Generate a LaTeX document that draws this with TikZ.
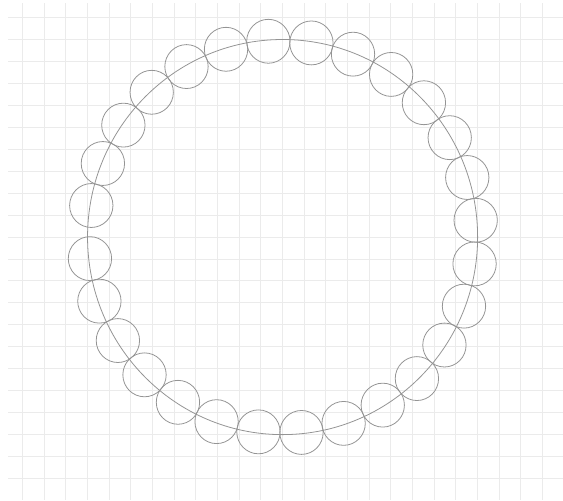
\documentclass[tikz,border=0pt]{standalone}
\usepackage{tikz}
\usetikzlibrary{calc}

\begin{document}
\begin{tikzpicture}[x=0.4334cm,y=0.439cm,
  gridline/.style={gray!16,line width=0.55pt},
  ringline/.style={black!42,line width=0.45pt}]
  \useasboundingbox (-13.04,-11.98) rectangle (12.94,10.80);

  % Background grid
  \draw[gridline,step=1] (-12.67,-11.98) grid (12.94,10.66);

  % Big circle (radius 9)
  \coordinate (centre) at (0,0);
  \draw[ringline] (centre) circle (9);

  % Small circles, radius 1, neighbours meet on the big circle
  \pgfmathsetmacro{\stepang}{2*asin(1/9)}
  \pgfmathsetmacro{\midrad}{9*cos(\stepang/2)}
  \foreach \k in {0,...,27} {
    \pgfmathsetmacro{\ang}{186.3+\k*\stepang}
    \draw[ringline] ($(centre)+(\ang:\midrad)$) circle (1);
  }
\end{tikzpicture}
\end{document}
